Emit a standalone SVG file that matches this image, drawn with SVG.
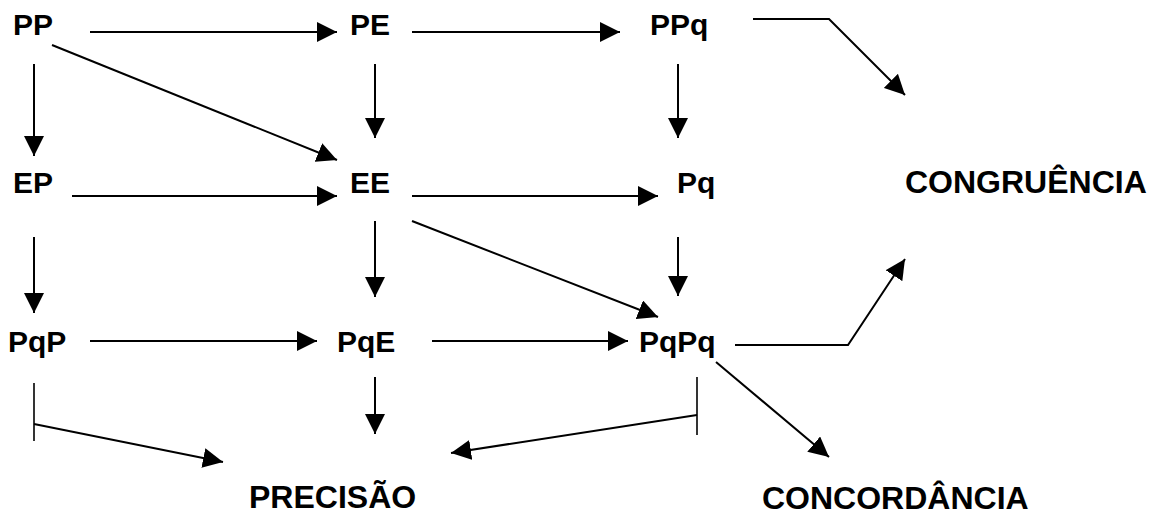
<svg xmlns="http://www.w3.org/2000/svg" width="1155" height="513" viewBox="0 0 1155 513">
<style>
text{font-family:"Liberation Sans",Arial,sans-serif;font-weight:bold;fill:#000}
.n{font-size:30px}
.b{font-size:32px}
.c{fill:none;stroke:#000;stroke-width:2}
.a{marker-end:url(#ah)}
.t{fill:none;stroke:#000;stroke-width:1.6}
</style>
<defs>
<marker id="ah" markerUnits="userSpaceOnUse" markerWidth="20" markerHeight="20" refX="20" refY="10" orient="auto" viewBox="0 0 20 20">
<path d="M0,0 L20,10 L0,20 z" fill="#000"/>
</marker>
</defs>
<rect width="1155" height="513" fill="#fff"/>
<g id="connectors">
<line class="c a" x1="90" y1="32" x2="337" y2="32"/>
<line class="c a" x1="412" y1="32" x2="620" y2="32"/>
<polyline class="c a" points="753,19 829,19 905,95"/>
<line class="c a" x1="34" y1="64" x2="34" y2="156"/>
<line class="c a" x1="52" y1="45" x2="337" y2="160"/>
<line class="c a" x1="375" y1="64" x2="375" y2="138"/>
<line class="c a" x1="678" y1="64" x2="678" y2="138"/>
<line class="c a" x1="72" y1="196" x2="337" y2="196"/>
<line class="c a" x1="412" y1="196" x2="658" y2="196"/>
<line class="c a" x1="375" y1="221" x2="375" y2="297"/>
<line class="c a" x1="412" y1="221" x2="658" y2="317"/>
<line class="c a" x1="678" y1="237" x2="678" y2="296"/>
<line class="c a" x1="34" y1="237" x2="34" y2="313"/>
<line class="c a" x1="90" y1="341" x2="317" y2="341"/>
<line class="c a" x1="432" y1="341" x2="628" y2="341"/>
<polyline class="c a" points="735,345 848,345 905,259"/>
<line class="c a" x1="716" y1="362" x2="829" y2="457"/>
<line class="t" x1="34" y1="383" x2="34" y2="441"/>
<line class="c a" x1="34" y1="424" x2="223" y2="462"/>
<line class="c a" x1="375" y1="377" x2="375" y2="434"/>
<line class="t" x1="697" y1="377" x2="697" y2="435"/>
<line class="c a" x1="697" y1="415" x2="451" y2="453"/>
</g>
<g id="PP"><text class="n" x="13" y="35">PP</text></g>
<g id="PE"><text class="n" x="350" y="35">PE</text></g>
<g id="PPq"><text class="n" x="650" y="35">PPq</text></g>
<g id="EP"><text class="n" x="13" y="193">EP</text></g>
<g id="EE"><text class="n" x="350" y="193">EE</text></g>
<g id="Pq"><text class="n" x="677" y="193">Pq</text></g>
<g id="PqP"><text class="n" x="8" y="352">PqP</text></g>
<g id="PqE"><text class="n" x="337" y="352">PqE</text></g>
<g id="PqPq"><text class="n" x="639" y="352">PqPq</text></g>
<g id="CONGRUENCIA"><text class="b" x="905" y="193">CONGRUÊNCIA</text></g>
<g id="PRECISAO"><text class="b" x="249" y="508">PRECISÃO</text></g>
<g id="CONCORDANCIA"><text class="b" x="762" y="509">CONCORDÂNCIA</text></g>
</svg>
